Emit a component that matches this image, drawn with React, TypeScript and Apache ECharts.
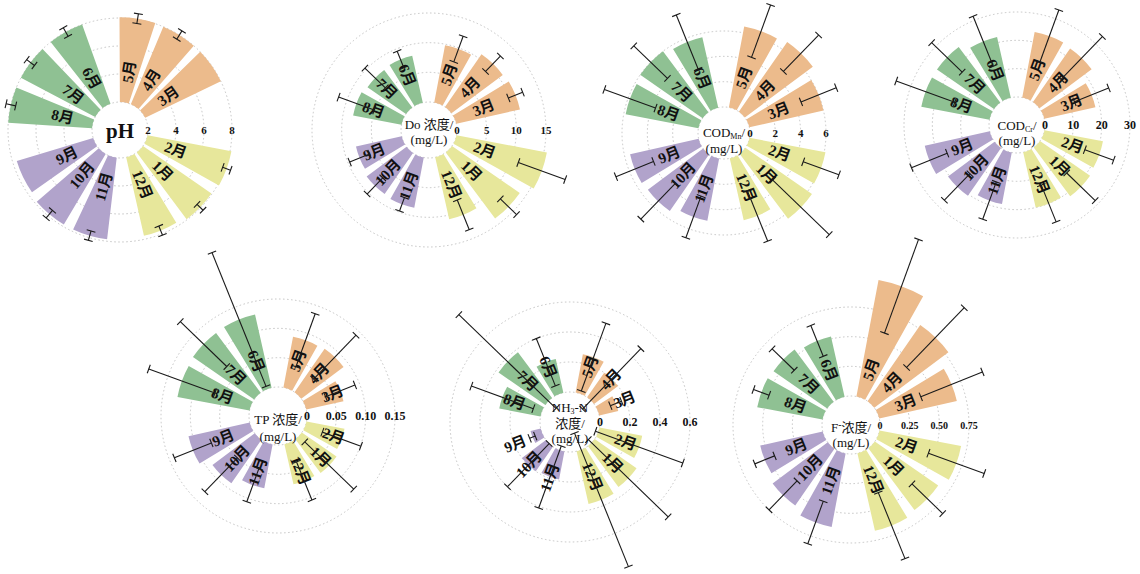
import React, { useEffect, useRef } from 'react';
import * as echarts from 'echarts';

const SERIF = '"Liberation Serif", "Times New Roman", "Noto Sans CJK SC", serif';

const MONTHS = ['1月', '2月', '3月', '4月', '5月', '6月', '7月', '8月', '9月', '10月', '11月', '12月'];
// 0 winter, 1 spring, 2 summer, 3 autumn
const SEASON_INDEX = [0, 0, 1, 1, 1, 2, 2, 2, 3, 3, 3, 0];
const SEASON_COLORS = ['#e7e79b', '#ecbb8c', '#8fc193', '#b1a3cb'];

// Monthly means and standard deviations, January..December
const PH_MEAN = [7.95, 8.1, 8.0, 8.0, 8.05, 8.0, 8.0, 8.0, 7.7, 7.85, 7.85, 7.75];
const PH_SD = [0.3, 0.3, 0, 0.35, 0.35, 0.35, 0.35, 0.35, 0, 0.35, 0.35, 0.35];
const PH_TICKS = [2, 4, 6, 8];

const DO_MEAN = [13.9, 15.5, 11.0, 10.8, 9.8, 8.1, 7.9, 8.3, 7.9, 8.4, 8.6, 10.7];
const DO_SD = [1.9, 4.2, 1.3, 1.8, 2.3, 1.5, 2.4, 3.2, 1.8, 1.9, 1.2, 2.7];
const DO_TICKS = [0, 5, 10, 15];

const CODMN_MEAN = [6.4, 6.1, 6.0, 6.7, 6.5, 5.7, 6.0, 5.85, 5.55, 5.45, 5.0, 5.0];
const CODMN_SD = [3.1, 1.5, 1.5, 2.0, 2.2, 2.3, 1.85, 2.15, 1.6, 1.95, 1.75, 2.15];
const CODMN_TICKS = [0, 2, 4, 6];

const CODCR_MEAN = [21.5, 21, 18.5, 23, 23.5, 22, 24.5, 24.5, 23.5, 20.5, 18.5, 20];
const CODCR_SD = [7, 5.4, 6.5, 10.5, 9.8, 9.5, 7.5, 11, 6.8, 6.5, 7, 7];
const CODCR_TICKS = [0, 10, 20, 30];

const TP_MEAN = [0.072, 0.066, 0.065, 0.09, 0.088, 0.128, 0.127, 0.125, 0.107, 0.09, 0.076, 0.07];
const TP_SD = [0.058, 0.035, 0.027, 0.052, 0.048, 0.123, 0.055, 0.06, 0.034, 0.04, 0.03, 0.035];
const TP_TICKS = [0, 0.05, 0.1, 0.15];

const NH3N_MEAN = [0.34, 0.29, 0.13, 0.2, 0.26, 0.23, 0.38, 0.28, 0.07, 0.2, 0.19, 0.36];
const NH3N_SD = [0.37, 0.31, 0.04, 0.28, 0.24, 0.17, 0.45, 0.22, 0.02, 0.2, 0.22, 0.48];
const NH3N_TICKS = [0, 0.2, 0.4, 0.6];

const F_MEAN = [0.65, 0.7, 0.67, 0.78, 1.0, 0.52, 0.55, 0.56, 0.54, 0.58, 0.63, 0.67];
const F_SD = [0.18, 0.25, 0.28, 0.35, 0.42, 0.14, 0.13, 0.07, 0.09, 0.17, 0.19, 0.3];
const F_TICKS = [0, 0.25, 0.5, 0.75];

// Layout: bar direction of each month, degrees clockwise from 12 o'clock
const SLOT_ANGLES = [134, 110, 68, 44, 20, 338, 314, 290, 248, 224, 200, 158];
const PH_SLOT_ANGLES = [134, 110, 55, 32, 9, 331, 307, 283, 244, 220, 196, 158];
const BAR_SWEEP = 18.5;
const LABEL_RADIUS = 59;
const CAP_HALF = 4.5;

const sizedRich = (size: number) => ({
  t: { fontFamily: SERIF, fontSize: size, lineHeight: size + 3, verticalAlign: 'middle', color: '#111' },
  s: { fontFamily: SERIF, fontSize: Math.round(size * 0.62), lineHeight: 6, verticalAlign: 'bottom', color: '#111' },
  p: { fontFamily: SERIF, fontSize: Math.round(size * 0.75), lineHeight: 8, verticalAlign: 'top', color: '#111' },
});

type TitleLine = { text: string; dy: number; font?: string; rich?: boolean };

type Panel = {
  mean: number[];
  sd: number[];
  ticks: number[];
  fmt: (v: number) => string;
  angles: number[];
  center: [number, number];
  radius: [number, number];
  axisFont: number;
  title: TitleLine[];
};

const plain = (v: number) => String(v);
const fixed = (d: number) => (v: number) => (v === 0 ? '0' : v.toFixed(d));
const TITLE_FONT = `13px ${SERIF}`;

const PANELS: Panel[] = [
  {
    mean: PH_MEAN, sd: PH_SD, ticks: PH_TICKS, fmt: plain, angles: PH_SLOT_ANGLES,
    center: [120, 130], radius: [28, 112], axisFont: 11,
    title: [{ text: 'pH', dy: 1, font: `bold 21px ${SERIF}` }],
  },
  {
    mean: DO_MEAN, sd: DO_SD, ticks: DO_TICKS, fmt: plain, angles: SLOT_ANGLES,
    center: [429, 130], radius: [28, 117], axisFont: 11,
    title: [{ text: 'Do 浓度/', dy: -6 }, { text: '(mg/L)', dy: 9 }],
  },
  {
    mean: CODMN_MEAN, sd: CODMN_SD, ticks: CODMN_TICKS, fmt: plain, angles: SLOT_ANGLES,
    center: [724, 133], radius: [26, 102], axisFont: 11,
    title: [{ text: '{t|COD}{s|Mn}{t|/}', dy: -1, rich: true }, { text: '(mg/L)', dy: 15 }],
  },
  {
    mean: CODCR_MEAN, sd: CODCR_SD, ticks: CODCR_TICKS, fmt: plain, angles: SLOT_ANGLES,
    center: [1017, 125], radius: [28, 113], axisFont: 12,
    title: [{ text: '{t|COD}{s|Cr}{t|/}', dy: 0, rich: true }, { text: '(mg/L)', dy: 15 }],
  },
  {
    mean: TP_MEAN, sd: TP_SD, ticks: TP_TICKS, fmt: fixed(2), angles: SLOT_ANGLES,
    center: [278, 416], radius: [29, 117], axisFont: 12,
    title: [{ text: 'TP 浓度/', dy: 3 }, { text: '(mg/L)', dy: 20 }],
  },
  {
    mean: NH3N_MEAN, sd: NH3N_SD, ticks: NH3N_TICKS, fmt: fixed(1), angles: SLOT_ANGLES,
    center: [570, 422], radius: [30, 120], axisFont: 12,
    title: [
      { text: '{t|NH}{s|3}{t|-N}', dy: -15, rich: true },
      { text: '浓度/', dy: 1 },
      { text: '(mg/L)', dy: 16 },
    ],
  },
  {
    mean: F_MEAN, sd: F_SD, ticks: F_TICKS, fmt: fixed(2), angles: SLOT_ANGLES,
    center: [851, 425], radius: [29, 118], axisFont: 10,
    title: [{ text: '{t|F}{p|-}{t|浓度/}', dy: 2, rich: true }, { text: '(mg/L)', dy: 17 }],
  },
];

function makeRenderItem(panel: Panel) {
  const vMin = panel.ticks[0];
  const vMax = panel.ticks[panel.ticks.length - 1];
  return (params: any, api: any) => {
    const mean = api.value(0) as number;
    const sd = api.value(1) as number;
    const m = api.value(2) as number;
    const cs = params.coordSys;
    const cx = cs.cx;
    const cy = cs.cy;
    const axisAngle = (((panel.angles[m] - 90) % 360) + 360) % 360;
    const far = api.coord([vMax, axisAngle]);
    let ux = far[0] - cx;
    let uy = far[1] - cy;
    const len = Math.hypot(ux, uy) || 1;
    ux /= len;
    uy /= len;
    const rOf = (v: number) => {
      const p = api.coord([v, axisAngle]);
      return (p[0] - cx) * ux + (p[1] - cy) * uy;
    };
    const rIn = rOf(vMin);
    const rBar = Math.max(rIn, rOf(mean));
    const phi = Math.atan2(uy, ux);
    const half = ((BAR_SWEEP / 2) * Math.PI) / 180;
    const children: any[] = [
      {
        type: 'sector',
        shape: { cx, cy, r0: rIn, r: rBar, startAngle: phi - half, endAngle: phi + half, clockwise: true },
        style: { fill: SEASON_COLORS[SEASON_INDEX[m]] },
      },
    ];
    const textDir = ux >= 0 ? phi : phi + Math.PI;
    children.push({
      type: 'text',
      x: cx + ux * LABEL_RADIUS,
      y: cy + uy * LABEL_RADIUS,
      rotation: -textDir,
      style: {
        text: MONTHS[m],
        font: `bold 15px ${SERIF}`,
        fill: '#111',
        align: 'center',
        verticalAlign: 'middle',
        textAlign: 'center',
        textVerticalAlign: 'middle',
      },
    });
    if (sd > 0) {
      const loRaw = rOf(mean - sd);
      const rLo = Math.max(0, loRaw);
      const rHi = rOf(mean + sd);
      const nx = -uy;
      const ny = ux;
      const stroke = { stroke: '#1a1a1a', lineWidth: 1.1 };
      children.push({
        type: 'line',
        shape: { x1: cx + ux * rLo, y1: cy + uy * rLo, x2: cx + ux * rHi, y2: cy + uy * rHi },
        style: stroke,
      });
      const caps = loRaw > 0 ? [rLo, rHi] : [rHi];
      caps.forEach((r) => {
        const px = cx + ux * r;
        const py = cy + uy * r;
        children.push({
          type: 'line',
          shape: { x1: px - nx * CAP_HALF, y1: py - ny * CAP_HALF, x2: px + nx * CAP_HALF, y2: py + ny * CAP_HALF },
          style: stroke,
        });
      });
    }
    return { type: 'group', children };
  };
}

function buildOption(): any {
  const titleElements: any[] = [];
  PANELS.forEach((p) => {
    p.title.forEach((line) => {
      titleElements.push({
        type: 'text',
        x: p.center[0],
        y: p.center[1] + line.dy,
        z: 20,
        style: {
          text: line.text,
          font: line.font || TITLE_FONT,
          fill: '#111',
          rich: line.rich ? sizedRich(13) : undefined,
          align: 'center',
          verticalAlign: 'middle',
          textAlign: 'center',
          textVerticalAlign: 'middle',
        },
      });
    });
  });

  return {
    animation: false,
    backgroundColor: '#ffffff',
    polar: PANELS.map((p) => ({ center: p.center, radius: p.radius })),
    angleAxis: PANELS.map((_, i) => ({
      polarIndex: i,
      type: 'value',
      min: 0,
      max: 360,
      startAngle: 0,
      clockwise: true,
      show: false,
    })),
    radiusAxis: PANELS.map((p, i) => ({
      polarIndex: i,
      type: 'value',
      min: p.ticks[0],
      max: p.ticks[p.ticks.length - 1],
      interval: p.ticks[1] - p.ticks[0],
      axisLine: { show: false },
      axisTick: { show: false },
      axisLabel: {
        show: true,
        margin: 0,
        verticalAlign: 'middle',
        color: '#111',
        fontFamily: SERIF,
        fontWeight: 'bold',
        fontSize: p.axisFont,
        formatter: p.fmt,
      },
      splitLine: { show: true, lineStyle: { color: '#c4c4c4', type: [1.5, 2.5], width: 1 } },
      z: 1,
    })),
    series: PANELS.map((p, i) => ({
      type: 'custom',
      coordinateSystem: 'polar',
      polarIndex: i,
      silent: true,
      encode: { radius: 0, angle: 2 },
      data: p.mean.map((v, m) => [v, p.sd[m], m]),
      renderItem: makeRenderItem(p),
      z: 5,
    })),
    graphic: { elements: titleElements },
  };
}

export default function App() {
  const ref = useRef<HTMLDivElement>(null);
  useEffect(() => {
    if (!ref.current) return;
    const chart = echarts.init(ref.current, undefined, { renderer: 'svg' });
    chart.setOption(buildOption());
    return () => chart.dispose();
  }, []);
  return (
    <div
      ref={ref}
      style={{ position: 'absolute', left: 0, top: 0, width: 1140, height: 574, background: '#fff' }}
    />
  );
}
